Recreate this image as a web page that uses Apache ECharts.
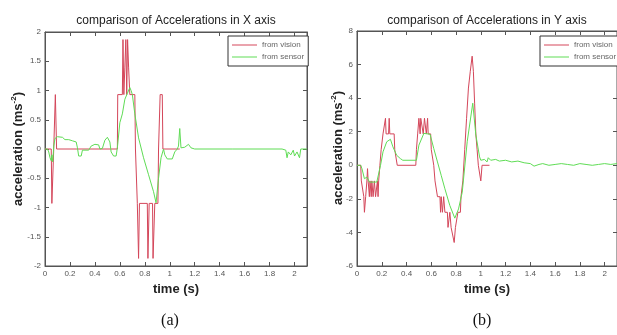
<!DOCTYPE html>
<html>
<head>
<meta charset="utf-8">
<script src="https://cdn.jsdelivr.net/npm/echarts@6/dist/echarts.min.js"></script>
<style>
  html, body { margin: 0; padding: 0; background: #fff; }
  #chart { width: 617px; height: 335px; }
</style>
</head>
<body>
<div id="chart"></div>
<script>
// 数据 [time (s), acceleration]
// X 轴 - vision
const xVision = [
  [0, 0], [0.05, 0], [0.055, -0.93], [0.067, -0.93], [0.07, 0], [0.08, 0], [0.083, 0.93], [0.09, 0.93], [0.093, 0],
  [0.58, 0], [0.583, 0.93], [0.62, 0.93], [0.625, 1.87], [0.632, 0.93], [0.64, 1.4], [0.648, 1.87], [0.655, 0.93],
  [0.662, 1.87], [0.67, 1.4], [0.68, 0.93], [0.72, 0.93], [0.725, 0], [0.737, 0], [0.74, -0.93], [0.75, -1.87],
  [0.757, -0.93], [0.82, -0.93], [0.825, -1.87], [0.835, -0.93], [0.862, -0.93], [0.866, -1.87], [0.875, -1.87],
  [0.88, -0.93], [0.905, -0.93], [0.91, 0], [0.92, 0], [0.923, 0.93], [0.94, 0.93], [0.945, 0], [1.08, 0]
];
// X 轴 - sensor
const xSensor = [
  [0, 0], [0.02, 0], [0.03, -0.05], [0.04, -0.15], [0.05, -0.2], [0.055, -0.1], [0.062, -0.22], [0.07, 0.05],
  [0.08, 0.18], [0.1, 0.21], [0.14, 0.2], [0.16, 0.16], [0.19, 0.16], [0.22, 0.14], [0.25, 0.12], [0.26, 0.02],
  [0.27, -0.12], [0.29, -0.12], [0.3, -0.02], [0.35, -0.02], [0.37, 0.05], [0.4, 0.08], [0.43, 0.07], [0.44, 0.0],
  [0.46, 0.01], [0.48, 0.15], [0.5, 0.2], [0.52, 0.12], [0.53, -0.05], [0.55, -0.12], [0.57, -0.12], [0.58, 0.02],
  [0.6, 0.45], [0.62, 0.6], [0.64, 0.85], [0.66, 0.95], [0.68, 1.05], [0.69, 1.0], [0.7, 0.93], [0.72, 0.6],
  [0.75, 0.19], [0.79, -0.15], [0.83, -0.44], [0.87, -0.73], [0.89, -0.92], [0.9, -0.95], [0.91, -0.5],
  [0.93, -0.15], [0.95, 0.0], [0.96, -0.1], [0.98, -0.17], [1.02, -0.17], [1.04, -0.05], [1.06, 0.0], [1.07, 0.05],
  [1.08, 0.35], [1.09, 0.02], [1.12, 0.03], [1.15, 0.08], [1.17, 0.02], [1.2, 0.0], [1.5, 0], [1.9, 0],
  [1.93, -0.02], [1.94, -0.15], [1.95, -0.05], [1.97, -0.1], [1.99, -0.02], [2.0, -0.12], [2.02, -0.05],
  [2.04, -0.15], [2.05, 0], [2.1, 0]
];
// Y 轴 - vision
const yVision = [
  [0, 0], [0.03, 0], [0.035, -0.93], [0.05, -0.93], [0.055, -1.87], [0.06, -2.8], [0.065, -2.8], [0.07, -1.87],
  [0.08, -0.93], [0.085, -0.2], [0.09, -0.93], [0.1, -1.87], [0.105, -0.93], [0.115, -1.87], [0.12, -0.93],
  [0.13, -1.87], [0.14, -0.93], [0.15, -1.87], [0.16, -1.87], [0.165, -0.93], [0.17, -1.87], [0.175, -0.93],
  [0.185, 0], [0.195, 0.93], [0.21, 1.87], [0.225, 1.87], [0.23, 2.8], [0.235, 1.87], [0.255, 1.87], [0.26, 2.8],
  [0.265, 1.87], [0.3, 1.87], [0.305, 0.93], [0.32, 0.93], [0.325, 0], [0.475, 0], [0.48, 0.93], [0.49, 1.87],
  [0.5, 2.8], [0.51, 1.87], [0.515, 2.8], [0.53, 2.8], [0.535, 1.87], [0.545, 2.8], [0.56, 1.87], [0.57, 2.8],
  [0.575, 1.87], [0.595, 1.87], [0.6, 0.93], [0.615, 0.93], [0.62, 0], [0.63, -0.93], [0.645, -0.93],
  [0.65, -1.87], [0.67, -1.87], [0.675, -2.8], [0.68, -1.87], [0.69, -2.8], [0.7, -1.87], [0.71, -2.8],
  [0.73, -2.8], [0.735, -3.7], [0.745, -3.7], [0.75, -2.8], [0.76, -3.7], [0.775, -3.7], [0.785, -4.6],
  [0.795, -3.7], [0.81, -3.7], [0.815, -2.8], [0.835, -2.8], [0.84, -1.87], [0.855, -0.93], [0.87, 0.93],
  [0.885, 2.8], [0.9, 4.6], [0.915, 5.6], [0.93, 6.5], [0.94, 5.6], [0.95, 3.7], [0.96, 1.87], [0.97, 0.93],
  [0.98, 0], [0.995, 0], [1.0, -0.93], [1.01, 0], [1.07, 0]
];
// Y 轴 - sensor
const ySensor = [
  [0, 0], [0.03, 0], [0.04, -0.2], [0.06, -0.8], [0.08, -0.7], [0.1, -1.0], [0.16, -1.0], [0.19, 0], [0.21, 0.8],
  [0.24, 1.4], [0.27, 1.55], [0.29, 1.1], [0.32, 0.6], [0.35, 0.4], [0.37, 0.3], [0.48, 0.3], [0.5, 1.2],
  [0.54, 1.9], [0.59, 1.85], [0.62, 1.0], [0.65, 0.2], [0.68, -0.6], [0.71, -1.4], [0.75, -2.4], [0.79, -3.15],
  [0.82, -2.6], [0.85, -1.6], [0.89, 1.4], [0.935, 3.7], [0.96, 1.8], [0.99, 0.5], [1.0, 0.3], [1.03, 0.35],
  [1.05, 0.2], [1.06, 0.45], [1.08, 0.3], [1.12, 0.35], [1.15, 0.25], [1.2, 0.3], [1.25, 0.2], [1.3, 0.25],
  [1.35, 0.15], [1.4, 0.1], [1.43, -0.05], [1.47, 0.05], [1.5, 0.1], [1.55, 0.0], [1.6, 0.05], [1.65, 0.1],
  [1.7, 0.05], [1.75, 0.0], [1.8, 0.1], [1.85, 0.05], [1.9, 0.0], [1.95, 0.05], [2.0, 0.1], [2.05, 0.05], [2.1, 0.1]
];
const seriesNames = ['from vision', 'from sensor'];
const titles = ['comparison of Accelerations in X axis', 'comparison of Accelerations in Y axis'];
const panelLabels = ['(a)', '(b)'];
const yName = 'acceleration (ms{sup|-2})';

const axisColor = '#555';
const redColor = '#d4465a';
const greenColor = '#5fdc55';
const font = 'Liberation Sans, Arial, sans-serif';

function bottomAxis(grid) {
  return {
    gridIndex: grid, type: 'value', min: 0, max: 2.1, interval: 0.2, position: 'bottom',
    axisLine: { show: true, onZero: false, lineStyle: { color: axisColor, width: 1 } },
    axisTick: { show: true, inside: true, length: 4, lineStyle: { color: axisColor } },
    axisLabel: { fontSize: 8, color: '#555', margin: 4, fontFamily: font, showMaxLabel: false },
    splitLine: { show: false },
    name: 'time (s)', nameLocation: 'middle', nameGap: 16,
    nameTextStyle: { fontSize: 13, fontWeight: 'bold', color: '#222', fontFamily: font }
  };
}
function topAxis(grid) {
  return {
    gridIndex: grid, type: 'value', min: 0, max: 2.1, interval: 0.2, position: 'top',
    axisLine: { show: true, onZero: false, lineStyle: { color: axisColor, width: 1 } },
    axisTick: { show: true, inside: true, length: 4, lineStyle: { color: axisColor } },
    axisLabel: { show: false }, splitLine: { show: false }
  };
}
function leftAxis(grid, min, max, step) {
  return {
    gridIndex: grid, type: 'value', min: min, max: max, interval: step, position: 'left',
    axisLine: { show: true, onZero: false, lineStyle: { color: axisColor, width: 1 } },
    axisTick: { show: true, inside: true, length: 4, lineStyle: { color: axisColor } },
    axisLabel: { fontSize: 8, color: '#555', margin: 4, fontFamily: font },
    splitLine: { show: false }
  };
}
function rightAxis(grid, min, max, step) {
  return {
    gridIndex: grid, type: 'value', min: min, max: max, interval: step, position: 'right',
    axisLine: { show: true, onZero: false, lineStyle: { color: axisColor, width: 1 } },
    axisTick: { show: true, inside: true, length: 4, lineStyle: { color: axisColor } },
    axisLabel: { show: false }, splitLine: { show: false }
  };
}
// 竖排 y 轴名称 (带上标)
function yNameText(x, y) {
  return {
    type: 'text', x: x, y: y, rotation: Math.PI / 2, z: 10,
    style: {
      text: yName, align: 'center', verticalAlign: 'middle',
      fontSize: 13, fontWeight: 'bold', fill: '#222', fontFamily: font,
      rich: { sup: { fontSize: 8, fontWeight: 'bold', fill: '#222', fontFamily: font, verticalAlign: 'top', padding: [0, 0, 8, 0] } }
    }
  };
}
function legendAt(left) {
  return {
    data: seriesNames, orient: 'vertical', left: left, top: 36,
    backgroundColor: '#fff', borderColor: '#333', borderWidth: 1, borderRadius: 0,
    padding: [5, 4, 5, 4], icon: 'rect', itemWidth: 25, itemHeight: 1, itemGap: 4, selectedMode: false,
    textStyle: { fontSize: 8, color: '#666', fontFamily: font, padding: [0, 0, 0, 0] }
  };
}
function line(name, data, idx, color, z) {
  return {
    name: name, type: 'line', data: data, xAxisIndex: idx, yAxisIndex: idx,
    symbol: 'none', color: color, z: z, lineStyle: { width: 1, color: color }
  };
}

const chart = echarts.init(document.getElementById('chart'), null, { renderer: 'canvas' });
const option = {
  animation: false,
  backgroundColor: '#fff',
  title: [
    { text: titles[0], left: 171, top: 10, textAlign: 'center', textStyle: { fontSize: 12, fontWeight: 'normal', color: '#222', fontFamily: font } },
    { text: titles[1], left: 482, top: 10, textAlign: 'center', textStyle: { fontSize: 12, fontWeight: 'normal', color: '#222', fontFamily: font } },
    { text: panelLabels[0], left: 165, top: 308, textAlign: 'center', textStyle: { fontSize: 16, fontWeight: 'normal', color: '#111', fontFamily: 'Liberation Serif, Times New Roman, serif' } },
    { text: panelLabels[1], left: 477, top: 308, textAlign: 'center', textStyle: { fontSize: 16, fontWeight: 'normal', color: '#111', fontFamily: 'Liberation Serif, Times New Roman, serif' } }
  ],
  graphic: [yNameText(18, 149), yNameText(338, 148)],
  legend: [legendAt(228), legendAt(540)],
  grid: [
    { left: 45, top: 32, width: 262, height: 234, show: true, borderColor: axisColor, borderWidth: 1, backgroundColor: '#fff' },
    { left: 357, top: 31, width: 261, height: 235, show: true, borderColor: axisColor, borderWidth: 1, backgroundColor: '#fff' }
  ],
  xAxis: [bottomAxis(0), topAxis(0), bottomAxis(1), topAxis(1)],
  yAxis: [leftAxis(0, -2, 2, 0.5), rightAxis(0, -2, 2, 0.5), leftAxis(1, -6, 8, 2), rightAxis(1, -6, 8, 2)],
  series: [
    line(seriesNames[0], xVision, 0, redColor, 2),
    line(seriesNames[1], xSensor, 0, greenColor, 3),
    line(seriesNames[0], yVision, 2, redColor, 2),
    line(seriesNames[1], ySensor, 2, greenColor, 3)
  ]
};
chart.setOption(option);
</script>
</body>
</html>
